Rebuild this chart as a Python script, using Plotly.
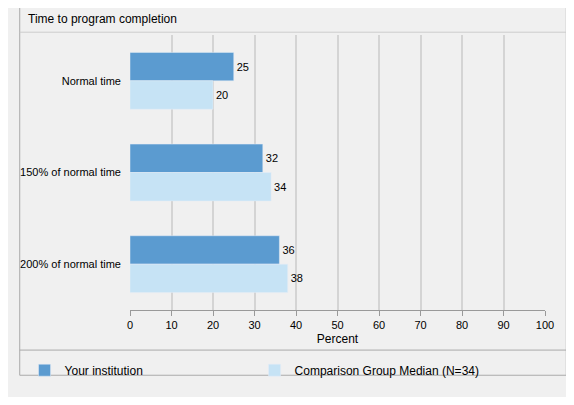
import plotly.graph_objects as go

categories = ["Normal time", "150% of normal time", "200% of normal time"]
your_inst = [25, 32, 36]
comparison = [20, 34, 38]
series_names = ["Your institution", "Comparison Group Median (N=34)"]
tick_vals = list(range(0, 101, 10))

OFF = 8
W, H = 574 - 2 * OFF, 405 - 2 * OFF
L, R, T, B = 119 - OFF, 26 - OFF, 35 - OFF, 75 - OFF
pw, ph = W - L - R, H - T - B
def px(x): return (x - OFF - L) / pw
def py(y): return 1 - (y - OFF - T) / ph

fig = go.Figure()
fig.add_bar(y=categories, x=your_inst, orientation="h", name=series_names[0],
            marker_color="#5b9bd0", text=your_inst, textposition="outside",
            textfont=dict(size=11, color="#000"), cliponaxis=False)
fig.add_bar(y=categories, x=comparison, orientation="h", name=series_names[1],
            marker_color="#c6e3f5", text=comparison, textposition="outside",
            textfont=dict(size=11, color="#000"), cliponaxis=False)

fig.update_layout(
    width=W, height=H, margin=dict(l=L, r=R, t=T, b=B),
    paper_bgcolor="#f0f0f0", plot_bgcolor="#f0f0f0",
    font=dict(family="Liberation Sans, Arial", size=11, color="#000"),
    barmode="group", bargap=0.38, bargroupgap=0,
    xaxis=dict(range=[0, 100], tickvals=tick_vals, showgrid=True, gridcolor="#d4d4d4",
               gridwidth=2, zeroline=False, showline=True, linecolor="#999", ticks="outside",
               ticklen=5, tickcolor="#999", title=dict(text="Percent", font=dict(size=12), standoff=4)),
    yaxis=dict(autorange="reversed", showgrid=False, ticks="", showline=False,
               ticklabelstandoff=8),
    showlegend=True,
    legend=dict(orientation="h", x=px(10), y=py(379), xanchor="left", yanchor="top",
                traceorder="normal", font=dict(size=12), entrywidth=185,
                bgcolor="rgba(0,0,0,0)"),
    shapes=[
        dict(type="rect", xref="paper", yref="paper", x0=px(5), x1=px(570), y0=py(400), y1=py(5),
             line=dict(color="#aaa", width=1)),
        dict(type="line", xref="paper", yref="paper", x0=px(5), x1=px(570), y0=py(373), y1=py(373),
             line=dict(color="#aaa", width=1)),
        dict(type="line", xref="paper", yref="paper", x0=px(5), x1=px(570), y0=py(32), y1=py(32),
             line=dict(color="#ccc", width=1)),
    ],
    annotations=[dict(text="Time to program completion", xref="paper", yref="paper",
                      x=px(12), y=py(18), xanchor="left", yanchor="middle",
                      showarrow=False, font=dict(size=12))],
)
fig.write_html("out.html")
